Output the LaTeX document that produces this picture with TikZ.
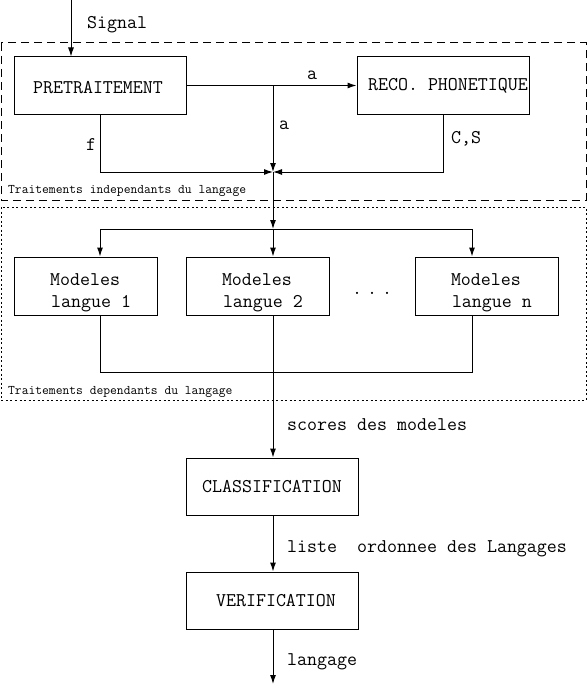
\documentclass[tikz,border=0pt]{standalone}
\usetikzlibrary{arrows.meta}
\begin{document}
\begin{tikzpicture}[x=1pt,y=-1pt,
  box/.style={draw, line width=1pt, inner sep=0pt, font=\ttfamily\fontsize{19.4}{22}\selectfont},
  lbl/.style={font=\ttfamily\fontsize{19.4}{22}\selectfont, inner sep=0pt, anchor=base west},
  small/.style={font=\ttfamily\fontsize{13.2}{13}\selectfont, inner sep=0pt, anchor=base west},
  arr/.style={-{Latex[length=9pt,width=6pt]}, line width=1pt},
  ln/.style={line width=1pt},
  frameA/.style={line width=1pt, dash pattern=on 8pt off 5pt},
  frameB/.style={line width=1pt, dash pattern=on 2pt off 2.5pt}]
\useasboundingbox (0,0) rectangle (587,685);

% frames
\draw[frameA] (1,43) rectangle (586,200);
\draw[frameB] (1,207) rectangle (586,400);
\node[small] (t1) at (8,193) {Traitements independants du langage};
\node[small] (t2) at (8,394) {Traitements dependants du langage};

% boxes
\node[box, minimum width=172pt, minimum height=57pt] (pre) at (100,85.5) {\raisebox{-8pt}[0pt][0pt]{PRETRAITEMENT}\hspace*{4pt}};
\node[box, minimum width=172pt, minimum height=57pt] (reco) at (443,85.5) {\hspace*{10pt}\raisebox{-1pt}{RECO. PHONETIQUE}};
\node[box, minimum width=143pt, minimum height=58pt, align=left] (m1) at (85.7,286) {\hspace*{11pt}\raisebox{-12pt}[0pt][0pt]{\parbox{82pt}{Modeles\\\hspace*{1pt}langue 1}}};
\node[box, minimum width=143pt, minimum height=58pt, align=left] (m2) at (257.5,286) {\hspace*{11pt}\raisebox{-12pt}[0pt][0pt]{\parbox{82pt}{Modeles\\\hspace*{1pt}langue 2}}};
\node[box, minimum width=143pt, minimum height=58pt, align=left] (mn) at (486.5,286) {\hspace*{11pt}\raisebox{-12pt}[0pt][0pt]{\parbox{82pt}{Modeles\\\hspace*{1pt}langue n}}};
\node[box, minimum width=172pt, minimum height=57pt] (cls) at (272,486.5) {CLASSIFICATION};
\node[box, minimum width=172pt, minimum height=57pt] (ver) at (272,600.5) {\hspace*{8pt}VERIFICATION};
\node[lbl] (dots) at (352,294) {.\hspace{5pt}.\hspace{5pt}.};

% coordinates
\coordinate (sig) at (71,0);
\coordinate (J) at (273,172);
\coordinate (B) at (273,229);
\coordinate (b1) at (100,229);
\coordinate (bn) at (472,229);
\coordinate (c1) at (100,372);
\coordinate (cn) at (472,372);
\coordinate (out) at (273,684);

% connectors
\draw[arr] (sig) -- (sig |- pre.north);
\draw[arr] (pre.east) -- (reco.west);
\draw[arr] (J |- pre.east) -- (J);
\draw[arr] (pre.south) -- (pre.south |- J) -- (J);
\draw[arr] (reco.south) -- (reco.south |- J) -- (J);
\draw[arr] (J) -- (B);
\draw[ln] (b1) -- (bn);
\draw[arr] (b1) -- (b1 |- m1.north);
\draw[arr] (B) -- (B |- m2.north);
\draw[arr] (bn) -- (bn |- mn.north);
\draw[ln] (b1 |- m1.south) -- (c1) -- (cn) -- (bn |- mn.south);
\draw[arr] (B |- m2.south) -- (B |- cls.north);
\draw[arr] (B |- cls.south) -- (B |- ver.north);
\draw[arr] (B |- ver.south) -- (out);

% labels
\node[lbl] (lsig) at (87,29) {Signal};
\node[lbl] (la1) at (307,80) {a};
\node[lbl] (la2) at (279,129) {a};
\node[lbl] (lf) at (86,150) {f};
\node[lbl] (lcs) at (451,143) {C,S};
\node[lbl] (lsc) at (287,430) {scores des modeles};
\node[lbl] (lli) at (287,552) {liste\ \ ordonnee des Langages};
\node[lbl] (lla) at (287,665) {langage};
\end{tikzpicture}
\end{document}
